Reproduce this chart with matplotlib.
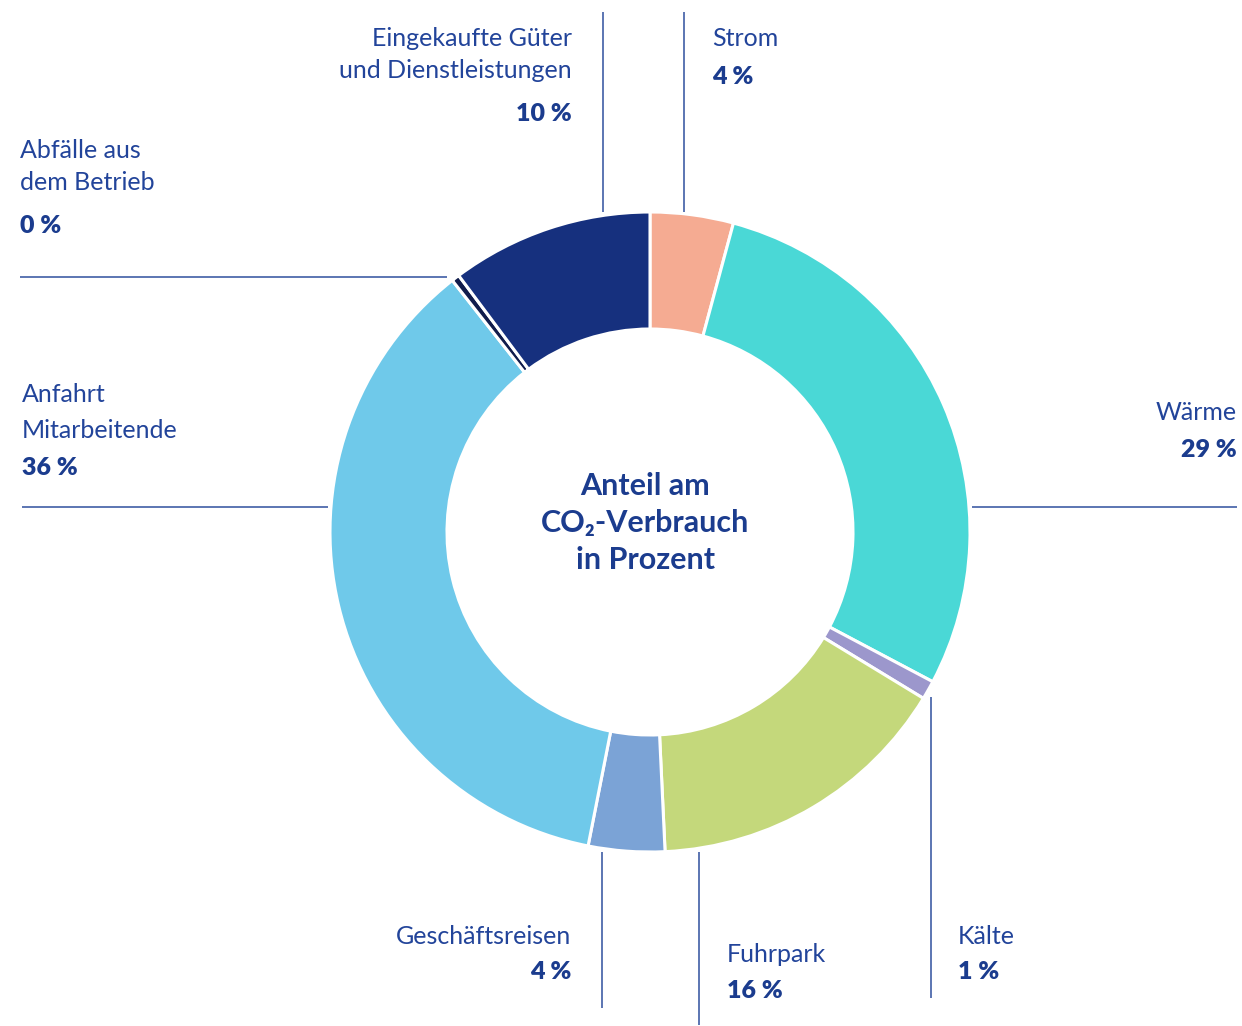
import matplotlib
matplotlib.use("Agg")
import matplotlib.pyplot as plt

# Segment data, clockwise from 12 o'clock
labels = ["Strom", "Wärme", "Kälte", "Fuhrpark", "Geschäftsreisen",
          "Anfahrt\nMitarbeitende", "Abfälle aus\ndem Betrieb",
          "Eingekaufte Güter\nund Dienstleistungen"]
shares = [4.2, 28.55, 0.95, 15.55, 3.85, 36.3, 0.4, 10.2]
shown_pct = ["4 %", "29 %", "1 %", "16 %", "4 %", "36 %", "0 %", "10 %"]
colors = ["#F5AB92", "#4AD8D6", "#9C97CC", "#C4D87B", "#7BA3D6",
          "#6FC9EA", "#101C4C", "#16307E"]

W, H = 1242, 1026
TXT = "#22449A"
PCT = "#1B3C8E"
LINE = "#2F4F9E"
FONT = ["Lato", "DejaVu Sans"]


def Y(y):
    # pixel row -> data y
    return H - y


fig = plt.figure(figsize=(W / 100, H / 100), dpi=100)
ax = fig.add_axes([0, 0, 1, 1])
ax.axis("off")

ax.pie(shares, colors=colors, startangle=90, counterclock=False,
       radius=320, center=(650, Y(532)),
       wedgeprops=dict(width=117, edgecolor="white", linewidth=2.2))
ax.set_xlim(0, W)
ax.set_ylim(0, H)
ax.set_aspect("equal")

# leader lines (pixel coords)
leaders = [
    ((603, 603), (12, 212)),
    ((684, 684), (12, 212)),
    ((20, 447), (277, 277)),
    ((22, 328), (507, 507)),
    ((972, 1237), (507, 507)),
    ((931, 931), (697, 998)),
    ((699, 699), (852, 1025)),
    ((602, 602), (852, 1008)),
]
for xs, ys in leaders:
    ax.plot(xs, [Y(v) for v in ys], color=LINE, lw=1.1, solid_capstyle="butt")


def label(x, y_lines, y_pct, name, pct, ha):
    for line, yy in zip(name.split("\n"), y_lines):
        ax.text(x, Y(yy), line, ha=ha, va="center", fontsize=18,
                color=TXT, family=FONT)
    ax.text(x, Y(y_pct), pct, ha=ha, va="center", fontsize=18,
            color=PCT, family=FONT, fontweight="heavy")


label(712, [39], 77, labels[0], shown_pct[0], "left")
label(1237, [413], 450, labels[1], shown_pct[1], "right")
label(958, [936], 972, labels[2], shown_pct[2], "left")
label(727, [954], 991, labels[3], shown_pct[3], "left")
label(571, [936], 972, labels[4], shown_pct[4], "right")
label(22, [394, 431], 468, labels[5], shown_pct[5], "left")
label(20, [151, 183], 226, labels[6], shown_pct[6], "left")
label(572, [39, 71], 114, labels[7], shown_pct[7], "right")

center_lines = ["Anteil am", "CO₂-Verbrauch", "in Prozent"]
for line, yy in zip(center_lines, [486, 523, 560]):
    ax.text(645, Y(yy), line, ha="center", va="center", fontsize=22,
            color=PCT, family=FONT, fontweight="bold")

fig.savefig("out.png", dpi=100, facecolor="white")
